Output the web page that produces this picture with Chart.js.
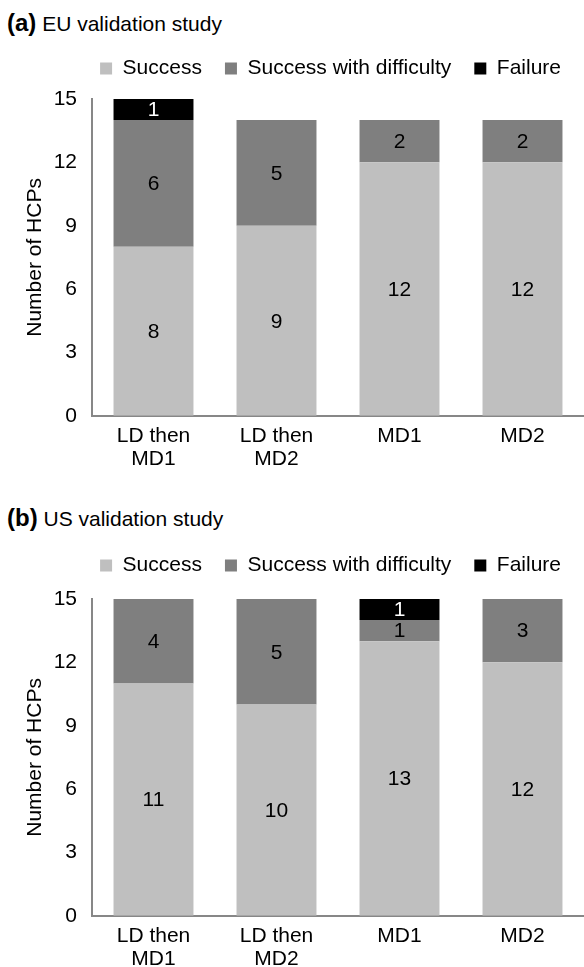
<!DOCTYPE html>
<html>
<head>
<meta charset="utf-8">
<script src="https://cdn.jsdelivr.net/npm/chart.js@4.4.0/dist/chart.umd.min.js"></script>
<style>
  body { margin: 0; background: #fff; width: 584px; height: 967px; overflow: hidden; position: relative;
         font-family: "Liberation Sans", Arial, sans-serif; }
  .panel-title { position: absolute; left: 7px; font-size: 21px; line-height: 28px; color: #000; white-space: nowrap; }
  .panel-title b { font-size: 24px; }
  canvas { position: absolute; left: 0; }
</style>
</head>
<body>
<div class="panel-title" style="top:9px"><b>(a)</b> EU validation study</div>
<canvas id="chart-a" width="584" height="445" style="top:35px"></canvas>
<div class="panel-title" style="top:504px"><b>(b)</b> US validation study</div>
<canvas id="chart-b" width="584" height="448" style="top:532px"></canvas>

<script>
// categories and values
const categories = [["LD then", "MD1"], ["LD then", "MD2"], "MD1", "MD2"];
const seriesNames = ["Success", "Success with difficulty", "Failure"];

const euSuccess = [8, 9, 12, 12];
const euDifficulty = [6, 5, 2, 2];
const euFailure = [1, 0, 0, 0];

const usSuccess = [11, 10, 13, 12];
const usDifficulty = [4, 5, 1, 3];
const usFailure = [0, 0, 1, 0];

const yTicks = { min: 0, max: 15, step: 3 };

const FONT = "'Liberation Sans', Arial, sans-serif";
const AXIS_GREY = "#878787";

// writes the count in the middle of every segment
const barLabels = {
  id: "barLabels",
  afterDatasetsDraw(chart) {
    const ctx = chart.ctx;
    ctx.save();
    ctx.font = "21px " + FONT;
    ctx.textAlign = "center";
    ctx.textBaseline = "middle";
    chart.data.datasets.forEach((ds, i) => {
      const meta = chart.getDatasetMeta(i);
      meta.data.forEach((bar, j) => {
        const v = ds.data[j];
        if (!v) return;
        ctx.fillStyle = ds.labelColor;
        ctx.fillText(String(v), bar.x, (bar.y + bar.base) / 2 + 1);
      });
    });
    ctx.restore();
  }
};

// extra room under the legend
function legendGap(px) {
  return {
    id: "legendGap",
    beforeInit(chart) {
      const fit = chart.legend.fit;
      chart.legend.fit = function () {
        fit.bind(chart.legend)();
        this.height += px;
      };
    }
  };
}

function makeChart(id, success, difficulty, failure, gap) {
  const bar = { barPercentage: 0.65, categoryPercentage: 1.0, borderWidth: 0 };
  return new Chart(document.getElementById(id), {
    type: "bar",
    data: {
      labels: categories,
      datasets: [
        { ...bar, label: seriesNames[0], data: success, backgroundColor: "#bfbfbf", labelColor: "#000" },
        { ...bar, label: seriesNames[1], data: difficulty, backgroundColor: "#7f7f7f", labelColor: "#000" },
        { ...bar, label: seriesNames[2], data: failure, backgroundColor: "#000000", labelColor: "#fff" }
      ]
    },
    options: {
      responsive: false,
      animation: false,
      layout: { padding: { top: 0, right: 0, bottom: 0, left: 0 } },
      plugins: {
        legend: {
          position: "top",
          align: "end",
          labels: {
            boxWidth: 12,
            boxHeight: 12,
            padding: 23,
            color: "#000",
            font: { size: 21, family: FONT }
          }
        },
        tooltip: { enabled: false }
      },
      scales: {
        x: {
          stacked: true,
          grid: { display: false, drawTicks: false },
          border: { color: AXIS_GREY, width: 2 },
          ticks: {
            color: "#000",
            font: { size: 21, family: FONT, lineHeight: 1.1 },
            padding: 9,
            maxRotation: 0,
            autoSkip: false
          }
        },
        y: {
          stacked: true,
          min: yTicks.min,
          max: yTicks.max,
          grid: { display: false, drawTicks: false },
          border: { color: AXIS_GREY, width: 2 },
          ticks: {
            stepSize: yTicks.step,
            padding: 15,
            color: "#000",
            font: { size: 21, family: FONT }
          },
          title: {
            display: true,
            text: "Number of HCPs",
            color: "#000",
            font: { size: 21, family: FONT },
            padding: { top: 23, bottom: 0 }
          },
          afterFit(scale) { scale.width = 92; }
        }
      }
    },
    plugins: [barLabels, legendGap(gap)]
  });
}

makeChart("chart-a", euSuccess, euDifficulty, euFailure, 10);
makeChart("chart-b", usSuccess, usDifficulty, usFailure, 13);
</script>
</body>
</html>
